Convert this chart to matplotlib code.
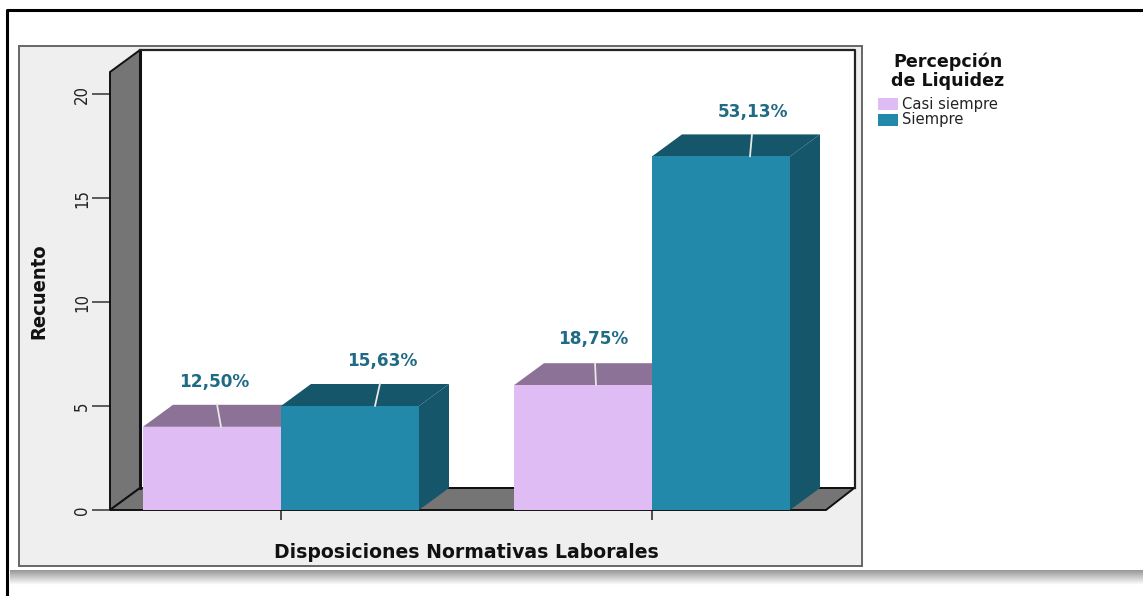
import numpy as np
import matplotlib
matplotlib.use("Agg")
import matplotlib.pyplot as plt
from matplotlib.patches import Rectangle, Polygon
from matplotlib.lines import Line2D

categories = ["A", "B"]
series_names = ["Casi siempre", "Siempre"]
casi_siempre = [4, 6]
siempre = [5, 17]
labels_casi = ["12,50%", "18,75%"]
labels_siempre = ["15,63%", "53,13%"]
y_ticks = [0, 5, 10, 15, 20]
x_title = "Disposiciones Normativas Laborales"
y_title = "Recuento"
legend_title = ["Percepción", "de Liquidez"]

PINK, PINK_TOP = "#dfbcf3", "#8b7296"
TEAL, TEAL_DARK = "#2389ab", "#15566b"
WALL = "#757575"
PANEL = "#efefef"

W, H = 1143, 596
fig = plt.figure(figsize=(W / 100, H / 100), dpi=100, facecolor="white")

def fx(x): return x / W
def fy(y): return 1 - y / H

# page decoration
shadow = fig.add_axes([fx(10), fy(585), 1 - fx(10), (585 - 570) / H], zorder=0)
grad = np.linspace(0.6, 0.99, 15).reshape(-1, 1)
shadow.imshow(grad, cmap="gray", vmin=0, vmax=1, aspect="auto")
shadow.axis("off")
fig.add_artist(Line2D([fx(7), fx(7), 1], [0, fy(10), fy(10)], color="black", lw=2.2, zorder=5))
fig.add_artist(Rectangle((fx(19), fy(566)), fx(843), 520 / H, facecolor=PANEL,
                         edgecolor="#666666", lw=1.4, zorder=1, transform=fig.transFigure))

# axes: x pixel 110..855, y pixel 510..50
PX_PER_Y = 20.8
PX_PER_X = 371.0
ax = fig.add_axes([fx(110), fy(510), 745 / W, 460 / H], zorder=2)
ax.set_xlim((110 - 281) / PX_PER_X, (855 - 281) / PX_PER_X)
ax.set_ylim(0, 460 / PX_PER_Y)
ax.patch.set_alpha(0)
for s in ax.spines.values():
    s.set_visible(False)

DX = 30 / PX_PER_X
DY = 22 / PX_PER_Y
x0, x1 = ax.get_xlim()
xfront_r = (826 - 281) / PX_PER_X
ytop = (510 - 72) / PX_PER_Y

# back wall, side wall, floor
ax.add_patch(Rectangle((x0 + DX, DY), x1 - x0 - DX, ax.get_ylim()[1] - DY, fc="white", ec="none", zorder=1))
ax.add_patch(Polygon([(x0, 0), (x0 + DX, DY), (x0 + DX, ytop + DY), (x0, ytop)],
                     fc=WALL, ec="#111111", lw=1.4, zorder=2, clip_on=False))
ax.add_patch(Polygon([(x0, 0), (xfront_r, 0), (x1 - 0.002, DY), (x0 + DX, DY)],
                     fc=WALL, ec="#111111", lw=1.4, zorder=2, clip_on=False))
ax.plot([x0 + DX, x0 + DX], [DY, ax.get_ylim()[1]], color="#111111", lw=2.2, zorder=3, clip_on=False)
ax.plot([x0 + DX, x1, x1, ], [ax.get_ylim()[1]] * 2 + [DY], color="#222222", lw=1.6, zorder=3, clip_on=False)
ax.plot([x0 + DX, x1], [DY, DY], color="#111111", lw=1.2, zorder=2.5)

# 3D bars
BW = 138 / PX_PER_X
xc = np.arange(len(categories))

def bar3d(x_left, h, front, dark, z):
    ax.bar(x_left, h, BW, align="edge", color=front, zorder=z + 0.2, linewidth=0)
    ax.add_patch(Polygon([(x_left, h), (x_left + BW, h), (x_left + BW + DX, h + DY), (x_left + DX, h + DY)],
                         fc=dark, ec="none", zorder=z))
    ax.add_patch(Polygon([(x_left + BW, 0), (x_left + BW + DX, DY), (x_left + BW + DX, h + DY), (x_left + BW, h)],
                         fc=dark, ec="none", zorder=z))

for i in xc:
    bar3d(i - BW, casi_siempre[i], PINK, PINK_TOP, 4 + i)
    bar3d(i, siempre[i], TEAL, TEAL_DARK, 4.5 + i)

# data labels with leader lines (pixel offsets from the bar-top front edge)
def label(x, h, text, dx0, dx1, dy_top, z):
    ax.annotate("", xy=(x, h), xytext=(dx1 * .72, 22.5 * .72), textcoords="offset points",
                arrowprops=dict(arrowstyle="-", color="#e8e8e8", lw=1.3, shrinkA=0, shrinkB=0), zorder=z)
    ax.annotate(text, xy=(x, h), xytext=(dx0 * .72, dy_top * .72), textcoords="offset points",
                ha="center", va="center", color="#1f6a84", fontsize=12.2, fontweight="bold",
                family="DejaVu Sans", zorder=12)

label(-BW + 78 / PX_PER_X, casi_siempre[0], labels_casi[0], -7, -4, 45, 8)
label(94 / PX_PER_X, siempre[0], labels_siempre[0], 7, 5, 45, 8)
label(1 - BW + 82 / PX_PER_X, casi_siempre[1], labels_casi[1], -3, -1, 46, 8)
label(1 + 98 / PX_PER_X, siempre[1], labels_siempre[1], 3, 2, 44, 8)

# axes ticks
ax.set_yticks(y_ticks)
ax.set_yticklabels([str(v) for v in y_ticks], rotation=90, va="center", family="DejaVu Sans",
                   stretch="condensed", fontsize=12, color="#222222")
ax.tick_params(axis="y", length=13, width=1.1, color="#333333", pad=0.5)
ax.set_xticks(xc)
ax.set_xticklabels([])
ax.tick_params(axis="x", length=7, width=1.2, color="#333333")

fig.text(fx(466), fy(552), x_title, ha="center", va="center", fontsize=13.6, fontweight="bold",
         family="DejaVu Sans", color="#111111", zorder=6)
fig.text(fx(39), fy(291), y_title, rotation=90, ha="center", va="center", fontsize=14.5, fontweight="bold",
         family="DejaVu Sans", stretch="condensed", color="#111111", zorder=6)

# legend
for txt, y in zip(legend_title, [62, 81]):
    fig.text(fx(948), fy(y), txt, ha="center", va="center", fontsize=12.6, fontweight="bold",
             family="DejaVu Sans", color="#111111")
for name, c, y in zip(series_names, [PINK, TEAL], [104, 120]):
    fig.add_artist(Rectangle((fx(878), fy(y + 6)), 20 / W, 12 / H, fc=c, ec="none", transform=fig.transFigure))
    fig.text(fx(902), fy(y), name, ha="left", va="center", fontsize=10.6, color="#222222", family="DejaVu Sans")

fig.savefig("out.png", dpi=100, facecolor="white")
